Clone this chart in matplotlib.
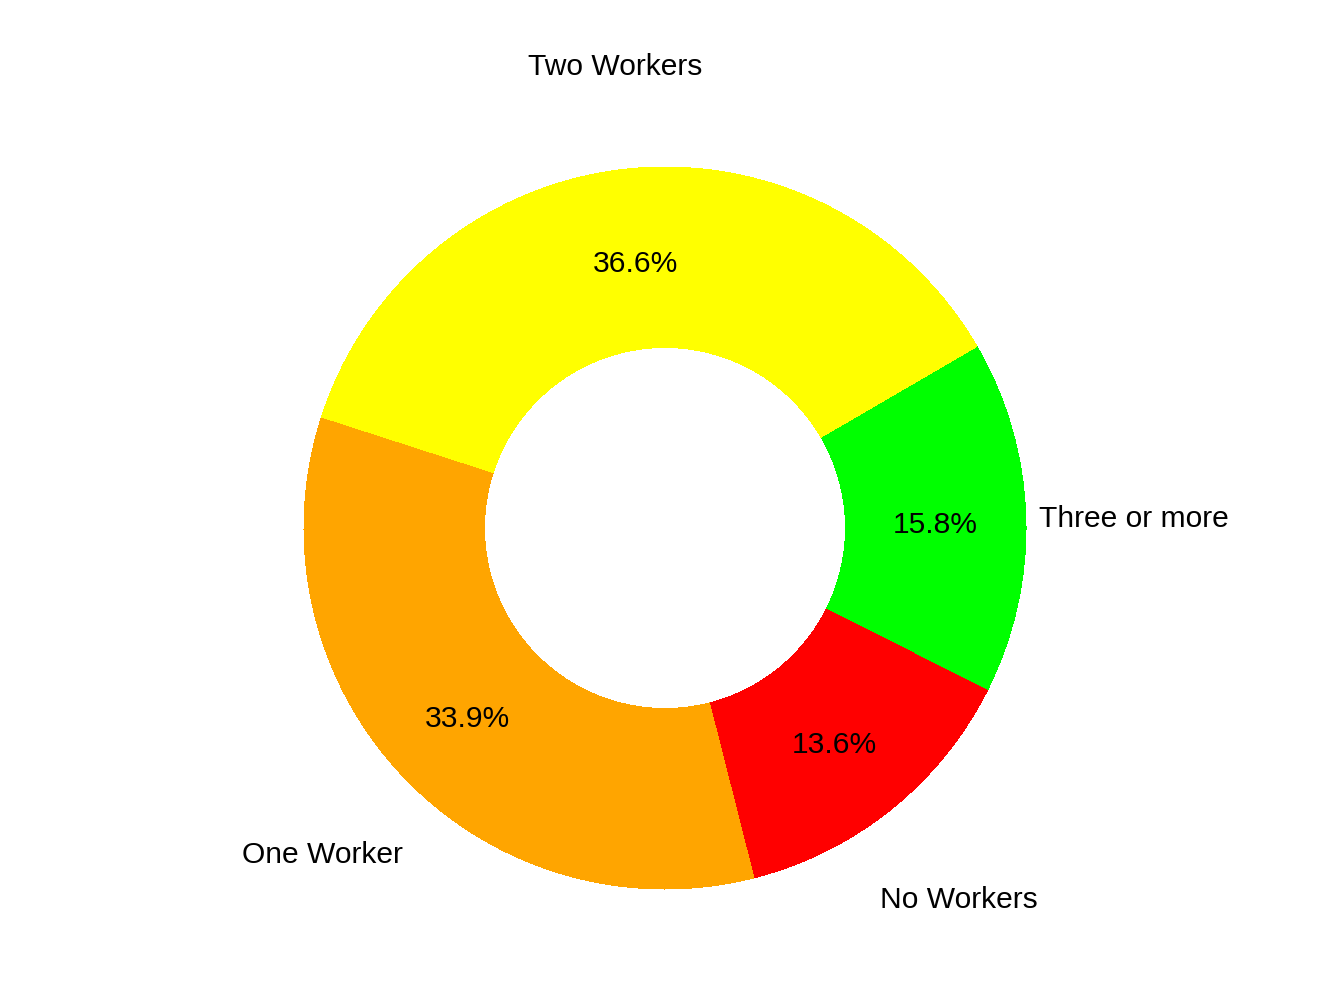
import matplotlib
matplotlib.use("Agg")
import matplotlib.pyplot as plt
import matplotlib.transforms as mtransforms

categories = ["Three or more", "No Workers", "One Worker", "Two Workers"]
shares = [15.8, 13.6, 33.9, 36.6]
colors = ["#00FF00", "#FF0000", "#FFA500", "#FFFF00"]

plt.rcParams["font.family"] = ["Liberation Sans", "DejaVu Sans"]

fig = plt.figure(figsize=(7, 5.25), dpi=192)
ax = fig.add_axes([0, 0, 1, 1])

wedges, texts, autotexts = ax.pie(
    shares,
    labels=categories,
    colors=colors,
    startangle=30.2,
    counterclock=False,
    radius=1.0,
    labeldistance=1.3,
    pctdistance=0.75,
    autopct="%1.1f%%",
    wedgeprops=dict(width=0.5, linewidth=0, antialiased=False),
    textprops=dict(fontsize=11.25, color="black"),
)
# nudge text down a touch to sit like the original
shift = mtransforms.ScaledTranslation(0, -1.0 / 72, fig.dpi_scale_trans)
for t in texts + autotexts:
    t.set_ha("center")
    t.set_va("center_baseline")
    t.set_transform(t.get_transform() + shift)

# place the ring where the original sits in the figure
cx, cy, r = 665, 528, 361
ax.set_xlim(-cx / r, (1344 - cx) / r)
ax.set_ylim(-(1008 - cy) / r, cy / r)
ax.set_aspect("equal")
ax.axis("off")

fig.savefig("out.png", dpi=192, facecolor="white")
